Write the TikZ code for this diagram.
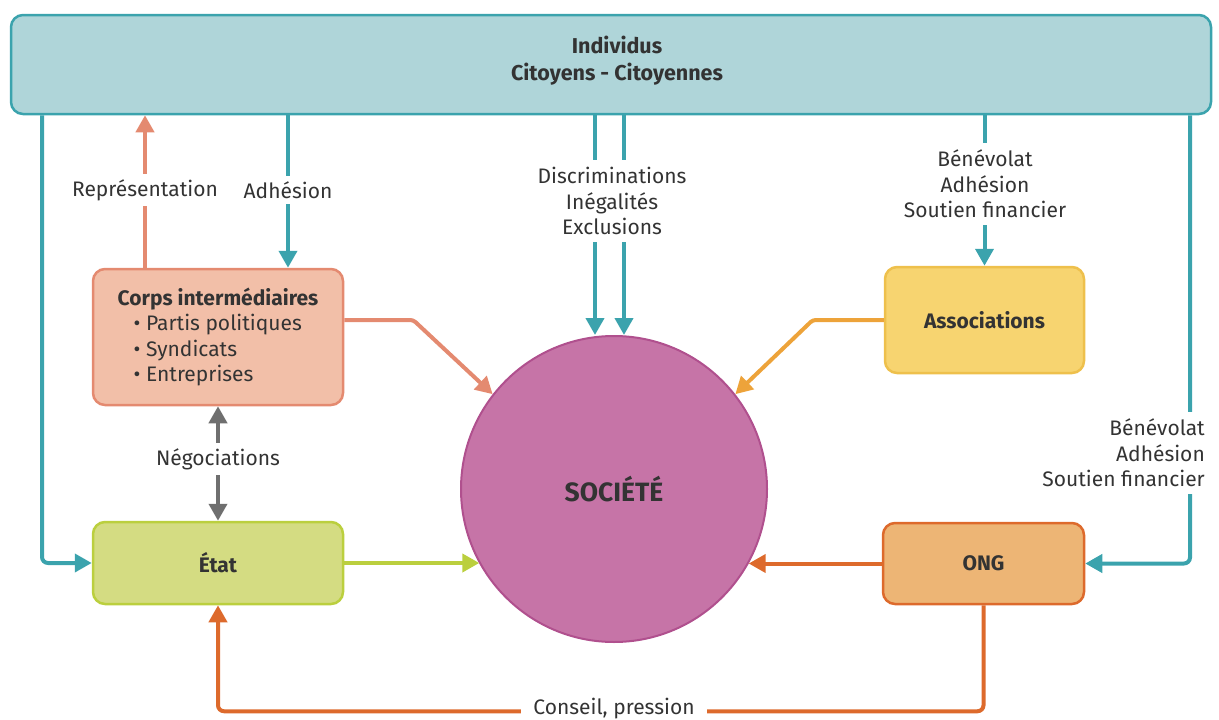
\documentclass[tikz,border=0pt]{standalone}
\usepackage{fontspec}
\setmainfont{Fira Sans}
\usetikzlibrary{arrows.meta,calc}
\definecolor{teal1}{HTML}{3BA3AD}
\definecolor{indfill}{HTML}{AFD5D9}
\definecolor{corpsline}{HTML}{E48A70}
\definecolor{corpsfill}{HTML}{F2BFA8}
\definecolor{etatline}{HTML}{BBCF3E}
\definecolor{etatfill}{HTML}{D4DC82}
\definecolor{socfill}{HTML}{C674A7}
\definecolor{socline}{HTML}{B0508E}
\definecolor{assocfill}{HTML}{F7D470}
\definecolor{assocline}{HTML}{EEC04C}
\definecolor{assocarrow}{HTML}{EDA33A}
\definecolor{ongfill}{HTML}{EDB575}
\definecolor{ongline}{HTML}{DD6A2C}
\definecolor{grayarrow}{HTML}{6F6F6F}
\definecolor{txt}{HTML}{333333}
\tikzset{
  box/.style={draw, line width=2.5pt, rounded corners=12pt, text=txt,
    font=\fontsize{21}{25.5}\selectfont\bfseries},
  lbl/.style={fill=white, inner xsep=5pt, inner ysep=5pt, text=txt,
    font=\fontsize{21}{25.5}\selectfont, align=center},
  conn/.style={line width=4pt, rounded corners=6pt,
    -{Triangle[length=17pt,width=18pt]}},
  dconn/.style={line width=4pt,
    {Triangle[length=17pt,width=18pt]}-{Triangle[length=17pt,width=18pt]}},
}
\begin{document}
\begin{tikzpicture}[x=1pt,y=-1pt]
\useasboundingbox (0,0) rectangle (1219,720);
% coordinates for connector positions
\coordinate (xl) at (42,0);
\coordinate (xrep) at (145,190);
\coordinate (xadh) at (288,190);
\coordinate (xd1) at (595,0);
\coordinate (xd2) at (624,0);
\coordinate (xrr) at (1190,0);
\coordinate (y320) at (0,320);
\coordinate (ybot) at (614,708.5);

% boxes
\node[box, fill=indfill, draw=teal1, minimum width=1200pt, minimum height=99pt] (ind) at (611,64.5) {};
\node[text=txt, font=\fontsize{21.5}{27}\selectfont\bfseries, align=center] (indt) at (617,61) {Individus\\Citoyens - Citoyennes};
\node[box, fill=corpsfill, draw=corpsline, minimum width=250pt, minimum height=136pt, align=left, font=\fontsize{21}{25.5}\selectfont] (corps) at (218,337)
  {{\bfseries Corps intermédiaires}\\\hspace*{16pt}• Partis politiques\\\hspace*{16pt}• Syndicats\\\hspace*{16pt}• Entreprises};
\node[box, fill=etatfill, draw=etatline, minimum width=250pt, minimum height=82pt] (etat) at (218,563) {État};
\node[circle, draw=socline, fill=socfill, line width=2pt, minimum size=306pt, text=txt,
  font=\fontsize{26.5}{30}\selectfont\bfseries] (soc) at (614,489) {SOCIÉTÉ};
\node[box, fill=assocfill, draw=assocline, minimum width=199pt, minimum height=106pt] (assoc) at (984.5,320) {Associations};
\node[box, fill=ongfill, draw=ongline, minimum width=201pt, minimum height=81pt] (ong) at (983.5,563.5) {ONG};

% connectors
\draw[conn, teal1] (ind.south -| xl) |- (etat.west);
\draw[conn, corpsline] (corps.north -| xrep) -- (ind.south -| xrep);
\draw[conn, teal1] (ind.south -| xadh) -- (corps.north -| xadh);
\draw[conn, teal1] (ind.south -| xd1) -- (xd1 |- soc.north);
\draw[conn, teal1] (ind.south -| xd2) -- (xd2 |- soc.north);
\draw[conn, teal1] (ind.south -| assoc.north) -- (assoc.north);
\draw[conn, teal1] (ind.south -| xrr) |- (ong.east);
\draw[conn, corpsline, rounded corners=3pt] (corps.east |- y320) -- ++(69,0) -- (soc.142);
\draw[conn, assocarrow, rounded corners=3pt] (assoc.west) -- ++(-71,0) -- (soc.38);
\draw[conn, etatline] (etat.east) -- (etat.east -| soc.209);
\draw[conn, ongline] (ong.west) -- (ong.west -| soc.331);
\draw[dconn, grayarrow] (corps.south) -- (etat.north);
\draw[conn, ongline] (ong.south) -- ++(0,106) -| (etat.south);

% labels
\node[lbl] (lrep) at (xrep) {Représentation};
\node[lbl] (ladh) at (xadh) {Adhésion};
\node[lbl, inner ysep=7pt] (ldis) at (612,201) {Discriminations\\Inégalités\\Exclusions};
\node[lbl, inner ysep=7pt] (lass) at (985,184) {Bénévolat\\Adhésion\\Soutien financier};
\node[lbl, align=right, anchor=east, inner xsep=2pt, inner ysep=7pt] (long) at (1207,453) {Bénévolat\\Adhésion\\Soutien financier};
\node[lbl] (lneg) at (218,459) {Négociations};
\node[lbl, inner xsep=12pt, inner ysep=1pt] (lcons) at (ybot) {Conseil, pression};
\end{tikzpicture}
\end{document}
